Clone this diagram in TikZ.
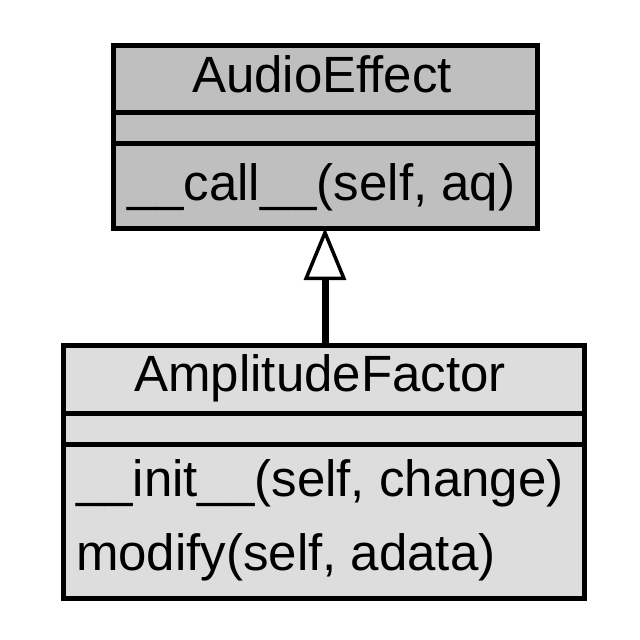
\documentclass[tikz,border=0pt]{standalone}
\usepackage{fontspec}
\setmainfont{Liberation Sans}
\usetikzlibrary{arrows.meta}
\definecolor{superfill}{gray}{0.75}
\definecolor{subfill}{gray}{0.865}
\tikzset{
  part/.style={draw=black, line width=5pt, inner sep=0pt, outer sep=0pt, rectangle},
  lbl/.style={inner sep=0pt, outer sep=0pt, font=\fontsize{51}{61}\selectfont},
  inherit/.style={draw=black, line width=7pt,
    -{Triangle[open, length=52pt, width=42pt, line width=3.5pt]}}
}
\begin{document}
\begin{tikzpicture}[x=1pt, y=-1pt]
\useasboundingbox (0,0) rectangle (640,640);
% AudioEffect
\node[part, fill=superfill, minimum width=424pt, minimum height=67pt] (aeTitle) at (325,78.5) {};
\node[part, fill=superfill, minimum width=424pt, minimum height=31pt] (aeAttr) at (325,127.5) {};
\node[part, fill=superfill, minimum width=424pt, minimum height=85pt] (aeMeth) at (325,185.5) {};
\node[lbl, anchor=base] (aeName) at (322,92) {AudioEffect};
\node[lbl, anchor=base west] (aeCall) at (127,200) {\_\_call\_\_(self, aq)};
% AmplitudeFactor
\node[part, fill=subfill, minimum width=521pt, minimum height=68pt] (afTitle) at (323.5,379) {};
\node[part, fill=subfill, minimum width=521pt, minimum height=31pt] (afAttr) at (323.5,428.5) {};
\node[part, fill=subfill, minimum width=521pt, minimum height=154pt] (afMeth) at (323.5,521) {};
\node[lbl, anchor=base] (afName) at (320,391) {AmplitudeFactor};
\node[lbl, anchor=base west] (afInit) at (76,496) {\_\_init\_\_(self, change)};
\node[lbl, anchor=base west] (afModify) at (76,570) {modify(self, adata)};
% generalisation
\draw[inherit] (afTitle.north -| aeMeth.south) -- (aeMeth.south);
\end{tikzpicture}
\end{document}
